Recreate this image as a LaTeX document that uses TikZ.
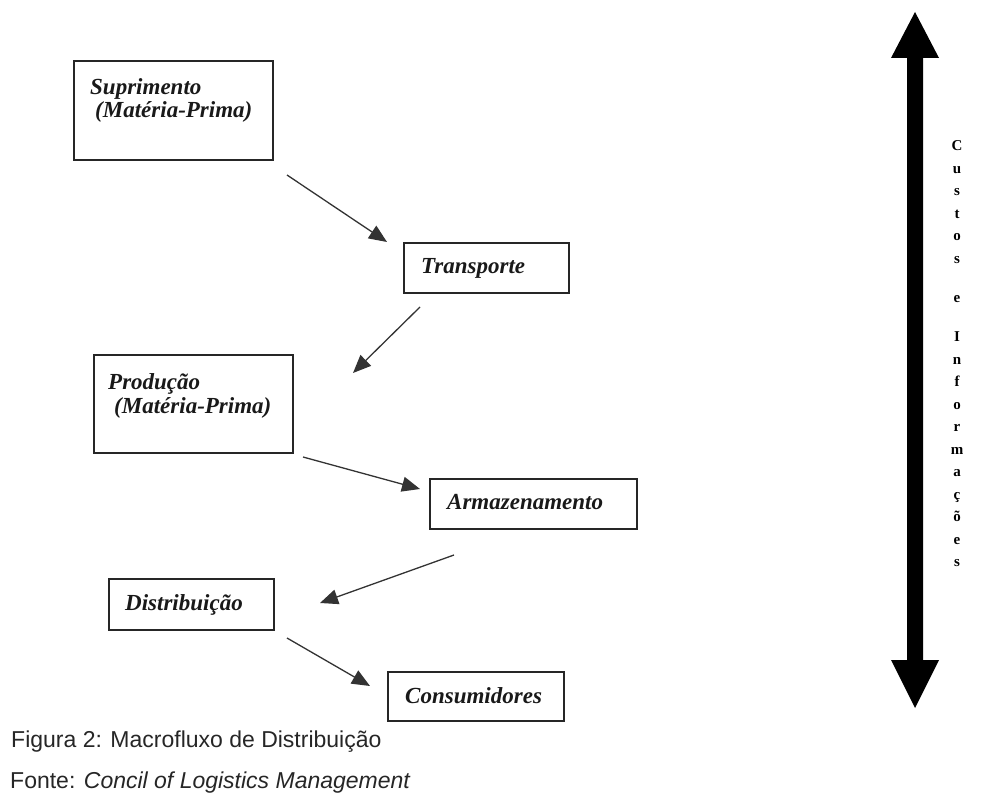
\documentclass[tikz,border=0pt]{standalone}
\usepackage{fontspec}
\setmainfont{Liberation Serif}
\newfontfamily\capfont{Liberation Sans}
\usetikzlibrary{arrows.meta}

\tikzset{
  stagebox/.style={draw=black!85, line width=1.8pt, rectangle, inner sep=0pt, anchor=north west},
  stagetext/.style={font=\bfseries\itshape\fontsize{23}{24}\selectfont, inner sep=0pt, anchor=base west, text=black!90},
  flow/.style={draw=black!80, line width=1.3pt, -{Triangle[length=18pt,width=15pt]}},
  sideletter/.style={font=\bfseries\fontsize{15}{16}\selectfont, inner sep=0pt, anchor=base},
  captext/.style={font=\capfont\fontsize{23}{25}\selectfont, inner sep=0pt, anchor=base west, text=black!85}
}

\begin{document}
\begin{tikzpicture}[x=1pt,y=-1pt]
  \useasboundingbox (0,0) rectangle (998,794);

  % stage boxes
  \node[stagebox, minimum width=199pt, minimum height=99pt] (sup) at (73,60) {};
  \node[stagebox, minimum width=165pt, minimum height=50pt] (tra) at (403,242) {};
  \node[stagebox, minimum width=199pt, minimum height=98pt] (pro) at (93,354) {};
  \node[stagebox, minimum width=207pt, minimum height=50pt] (arm) at (429,478) {};
  \node[stagebox, minimum width=165pt, minimum height=51pt] (dis) at (108,578) {};
  \node[stagebox, minimum width=176pt, minimum height=49pt] (con) at (387,671) {};

  % stage labels
  \node[stagetext] (supA) at (90,94.5) {Suprimento};
  \node[stagetext] (supB) at (95,118) {(Matéria-Prima)};
  \node[stagetext] (traA) at (421,273) {Transporte};
  \node[stagetext] (proA) at (108,389) {Produção};
  \node[stagetext] (proB) at (114,413) {(Matéria-Prima)};
  \node[stagetext] (armA) at (447,509) {Armazenamento};
  \node[stagetext] (disA) at (125,610) {Distribuição};
  \node[stagetext] (conA) at (405,703.5) {Consumidores};

  % free-standing flow arrows between the stages
  \coordinate (a1s) at (287,175);  \coordinate (a1e) at (387,242);
  \coordinate (a2s) at (420,307);  \coordinate (a2e) at (353,373);
  \coordinate (a3s) at (303,457);  \coordinate (a3e) at (420,489);
  \coordinate (a4s) at (454,555);  \coordinate (a4e) at (320,603);
  \coordinate (a5s) at (287,638);  \coordinate (a5e) at (370,686);
  \draw[flow] (a1s) -- (a1e);
  \draw[flow] (a2s) -- (a2e);
  \draw[flow] (a3s) -- (a3e);
  \draw[flow] (a4s) -- (a4e);
  \draw[flow] (a5s) -- (a5e);

  % big double-headed arrow
  \fill[black] (915,12) -- (939,58) -- (923,58) -- (923,660) -- (939,660)
    -- (915,708) -- (891,660) -- (907,660) -- (907,58) -- (891,58) -- cycle;

  % vertical label, one letter per line
  \foreach \ch/\yy [count=\i] in {C/151, u/173.5, s/196, t/218.5, o/241, s/263.5,
      e/302.5, I/341.5, n/364, f/386.5, o/409, r/431.5, m/454, a/476.5,
      ç/499, õ/521.5, e/544, s/566.5}
    \node[sideletter] (v\i) at (957,\yy) {\ch};

  % caption and source
  \node[captext] (fig) at (11,747) {Figura 2: Macrofluxo de Distribuição};
  \node[captext] (src) at (10,788) {Fonte: \textit{Concil of Logistics Management}};
\end{tikzpicture}
\end{document}
